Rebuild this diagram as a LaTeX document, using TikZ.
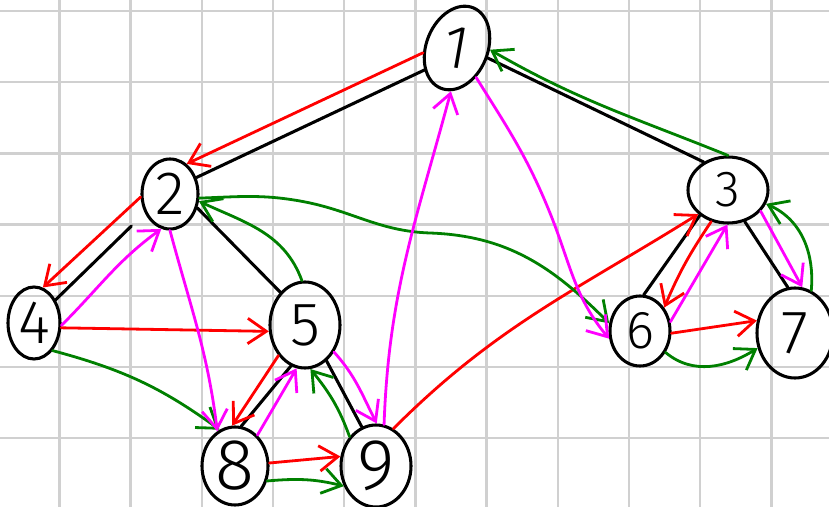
\documentclass[tikz,border=0pt]{standalone}
\usepackage{fontspec}
\setmainfont{Fira Sans Light}
\usetikzlibrary{shapes.geometric,arrows.meta}
\definecolor{gridc}{RGB}{208,208,208}
\definecolor{gr}{RGB}{0,128,0}
\definecolor{rd}{RGB}{255,0,0}
\definecolor{mg}{RGB}{255,0,255}
\begin{document}
\begin{tikzpicture}[x=0.75pt,y=0.75pt,
  nd/.style={draw, ellipse, line width=2.3pt, inner sep=0pt, font=\fontsize{46}{46}\selectfont},
  tree/.style={line width=2.3pt, line cap=round},
  trav/.style={line width=2.1pt, line cap=round, line join=round, -{Straight Barb[length=14pt,width=19pt]}},
  gridline/.style={gridc, line width=1.8pt}]
\useasboundingbox (0,0) rectangle (829,-507);
\fill[white] (0,0) rectangle (829,-507);
\foreach \gx in {59.3,130.5,201.7,272.9,344.1,415.3,486.5,557.7,628.9,700.1,771.3}
  \draw[gridline] (\gx,0) -- (\gx,-507);
\foreach \gy in {11,82.2,153.4,224.6,295.8,367,438.2}
  \draw[gridline] (0,-\gy) -- (829,-\gy);
% nodes
\node[nd, minimum width=46pt, minimum height=65pt, rotate=-22] (n1) at (457,-48) {\rotatebox{12}{1}};
\node[nd, minimum width=42pt, minimum height=52.5pt] (n2) at (170,-194) {2};
\node[nd, minimum width=60pt, minimum height=49.5pt, font=\fontsize{38}{38}\selectfont] (n3) at (728,-190) {3};
\node[nd, minimum width=39pt, minimum height=54pt] (n4) at (34,-323) {4};
\node[nd, minimum width=52.5pt, minimum height=64.5pt] (n5) at (305,-325) {5};
\node[nd, minimum width=45pt, minimum height=52.5pt, font=\fontsize{40}{40}\selectfont] (n6) at (640,-331) {6};
\node[nd, minimum width=57pt, minimum height=67.5pt] (n7) at (795,-333) {7};
\node[nd, minimum width=49.5pt, minimum height=58.5pt, font=\fontsize{54}{54}\selectfont] (n8) at (235,-466) {8};
\node[nd, minimum width=52.5pt, minimum height=61.5pt, font=\fontsize{54}{54}\selectfont] (n9) at (376,-466) {9};
% tree edges
\draw[tree] (n1.236) -- (n2.32);
\draw[tree] (n1.4) -- (n3.131);
\draw[tree, shorten <=14pt] (n2.217) -- (n4.47);
\draw[tree] (n2.333) -- (n5.127);
\draw[tree] (n3.222) -- (n6.84);
\draw[tree] (n3.298) -- (n7.99);
\draw[tree] (n5.251) -- (n8.81);
\draw[tree] (n5.301) -- (n9.110);
% red
\draw[trav, rd] (n1.210) -- (n2.61);
\draw[trav, rd] (n2.186) -- (n4.76);
\draw[trav, rd] (n4.350) -- (n5.190);
\draw[trav, rd] (n5.229) -- (n8.94);
\draw[trav, rd] (n8.5) -- (n9.165);
\draw[trav, rd] (n9.65) to[out=45,in=212] (n3.219);
\draw[trav, rd] (n3.242) to[out=236,in=67] (n6.44);
\draw[trav, rd] (n6.356) -- (n7.162);
% green
\draw[trav, gr] (n4.304) to[out=-15,in=144] (n8.113);
\draw[trav, gr] (n8.335) to[out=5,in=166] (n9.212);
\draw[trav, gr] (n9.132) to[out=110,in=309] (n5.277);
\draw[trav, gr] (n5.94) to[out=110,in=335] (n2.346);
\draw[trav, gr] (n2.352) to[out=2,in=170] (300,-201) to[out=-10,in=178] (430,-233) to[out=-2,in=135] (n6.166);
\draw[trav, gr] (n6.320) to[out=-40,in=212] (n7.202);
\draw[trav, gr] (n7.69) to[out=85,in=336] (n3.340);
\draw[trav, gr] (n3.90) to[out=158,in=330] (n1.19);
% magenta
\draw[trav, mg] (n4.355) to[out=45,in=216] (n2.256);
\draw[trav, mg] (n2.270) to[out=285,in=97] (n8.117);
\draw[trav, mg] (n8.54) -- (n5.259);
\draw[trav, mg] (n5.317) to[out=-48,in=117] (n9.89);
\draw[trav, mg] (n9.79) to[out=88,in=255] (n1.284);
\draw[trav, mg] (n1.325) to[out=-58,in=112] (550,-213) to[out=-68,in=130] (n6.194);
\draw[trav, mg] (n6.17) -- (n3.269);
\draw[trav, mg] (n3.327) -- (n7.81);
\end{tikzpicture}
\end{document}
